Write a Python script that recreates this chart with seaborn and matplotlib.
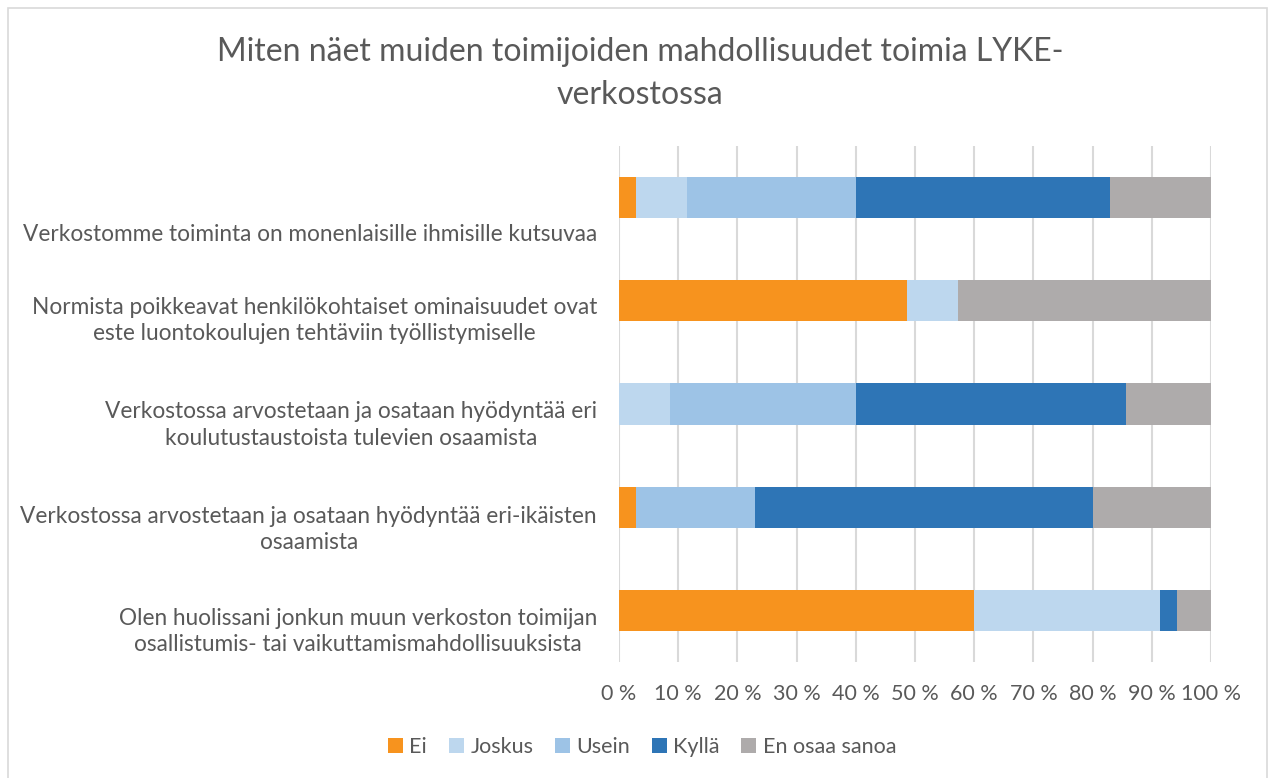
import numpy as np
import pandas as pd
import matplotlib
matplotlib.use("Agg")
import matplotlib.pyplot as plt
import matplotlib.transforms as mtransforms
from matplotlib.patches import Patch, Rectangle
import seaborn as sns

# data (percent of answers)
questions = [
    "Verkostomme toiminta on monenlaisille ihmisille kutsuvaa",
    "Normista poikkeavat henkilökohtaiset ominaisuudet ovat\neste luontokoulujen tehtäviin työllistymiselle",
    "Verkostossa arvostetaan ja osataan hyödyntää eri\nkoulutustaustoista tulevien osaamista",
    "Verkostossa arvostetaan ja osataan hyödyntää eri-ikäisten\nosaamista",
    "Olen huolissani jonkun muun verkoston toimijan\nosallistumis- tai vaikuttamismahdollisuuksista",
]
answers = ["Ei", "Joskus", "Usein", "Kyllä", "En osaa sanoa"]
ei = [2.9, 48.6, 0.0, 2.9, 60.0]
joskus = [8.6, 8.6, 8.6, 0.0, 31.4]
usein = [28.5, 0.0, 31.4, 20.0, 0.0]
kylla = [42.9, 0.0, 45.7, 57.1, 2.9]
en_osaa = [17.1, 42.8, 14.3, 20.0, 5.7]
x_ticks = list(range(0, 101, 10))
x_tick_labels = [f"{v} %" for v in x_ticks]

colors = ["#F7931E", "#BDD7EE", "#9DC3E6", "#2E75B6", "#AEABAB"]
text_color = "#595959"

df = pd.DataFrame({"question": questions, "Ei": ei, "Joskus": joskus,
                   "Usein": usein, "Kyllä": kylla, "En osaa sanoa": en_osaa})
cum = df[answers].cumsum(axis=1)

sns.set_theme(style="white")
plt.rcParams["font.family"] = ["Lato", "DejaVu Sans"]

fig = plt.figure(figsize=(12.69, 7.78), dpi=100)
ax = fig.add_axes([619 / 1269, 1 - 662 / 778, (1211 - 619) / 1269, (662 - 146) / 778])

# stacked bars: draw cumulative totals from the back to the front
for name, col in reversed(list(zip(answers, colors))):
    sns.barplot(x=cum[name], y=df["question"], orient="h", color=col,
                width=0.4, linewidth=0, saturation=1, ax=ax)

ax.set_xlim(0, 100)
ax.set_xticks(x_ticks)
ax.set_xticklabels(x_tick_labels, fontsize=15.5, color=text_color)
ax.tick_params(axis="x", length=0, pad=16)
ax.set_xlabel("")
ax.set_ylabel("")
ax.set_yticklabels([])
ax.tick_params(axis="y", length=0)
ax.grid(axis="x", color="#D9D9D9", linewidth=1.5)
ax.set_axisbelow(True)
for s in ax.spines.values():
    s.set_visible(False)

# category labels sit a bit below their bars like in the original
offsets = [37, 20, 21, 22, 21]
base = mtransforms.blended_transform_factory(ax.transAxes, ax.transData)
for i, (q, dy) in enumerate(zip(questions, offsets)):
    tr = base + mtransforms.ScaledTranslation(-22 / 100, -dy / 100, fig.dpi_scale_trans)
    ax.text(0, i, q, transform=tr, ha="right", va="center", multialignment="center",
            fontsize=16.3, color=text_color, linespacing=1.3)

fig.text(640 / 1269, 1 - 73.5 / 778,
         "Miten näet muiden toimijoiden mahdollisuudet toimia LYKE-\nverkostossa",
         ha="center", va="center", fontsize=23, color=text_color, linespacing=1.55)

handles = [Patch(facecolor=c, edgecolor="none", label=a) for a, c in zip(answers, colors)]
fig.legend(handles=handles, loc="center", bbox_to_anchor=(642 / 1269, 1 - 747 / 778),
           ncol=5, frameon=False, fontsize=15.5, labelcolor=text_color,
           handlelength=0.7, handleheight=0.7, handletextpad=0.3, columnspacing=1.0)

fig.patches.append(Rectangle((8 / 1269, -0.01), (1267 - 8) / 1269, 1 - 8 / 778 + 0.01,
                             transform=fig.transFigure, fill=False,
                             edgecolor="#D9D9D9", linewidth=1.2))

fig.savefig("out.png", dpi=100)
